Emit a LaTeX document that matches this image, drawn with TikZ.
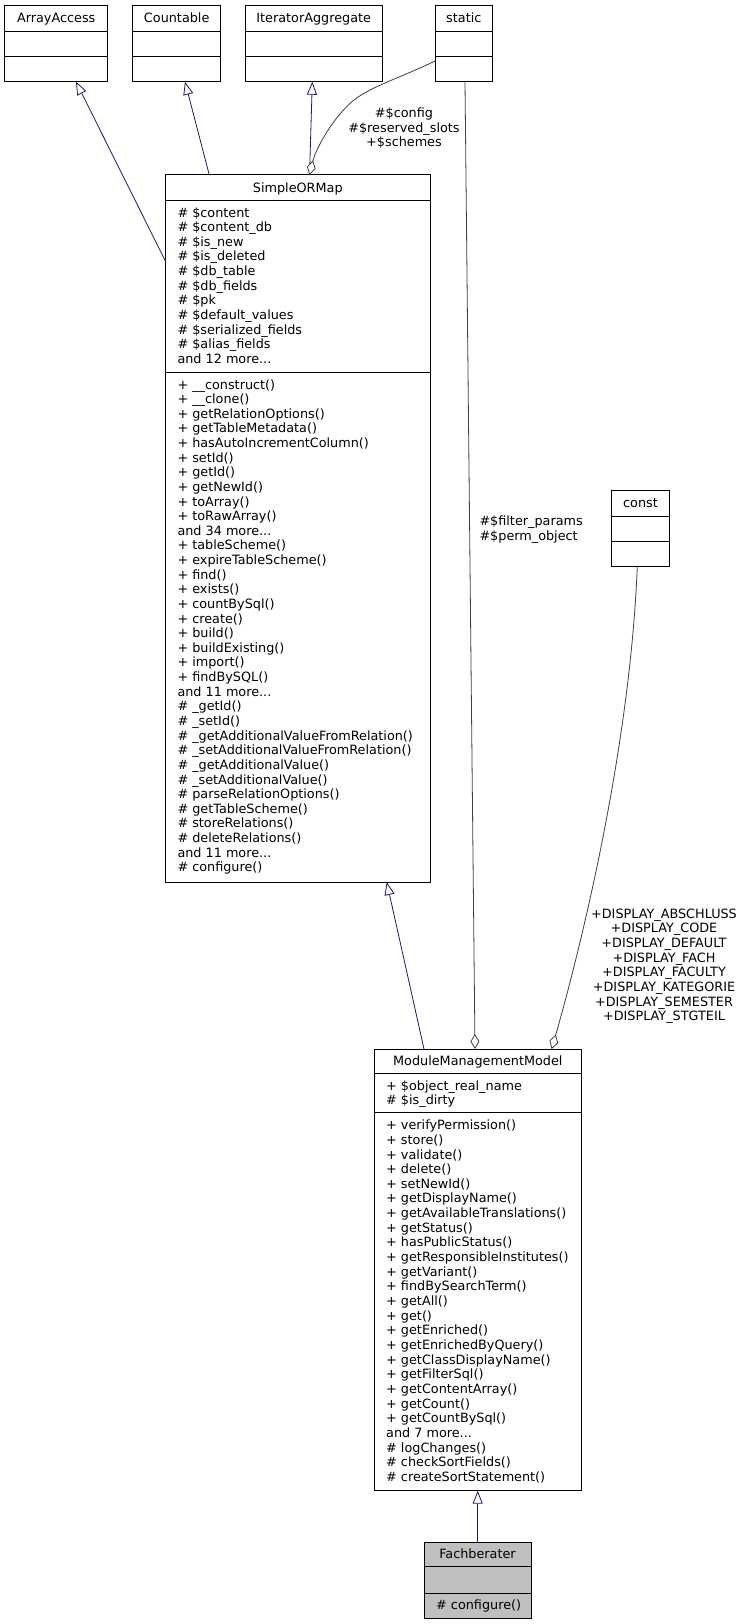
\documentclass[tikz,border=0pt]{standalone}
\usepackage{fontspec}
\setmainfont{DejaVu Sans}
\usetikzlibrary{arrows.meta}
\definecolor{navy}{HTML}{191970}
\definecolor{aggc}{HTML}{404040}
\definecolor{fachfill}{HTML}{BFBFBF}
\tikzset{
  clsbox/.style={draw=black, line width=1pt, inner sep=0pt, outer sep=0pt, anchor=north west},
  divline/.style={draw=black, line width=1pt},
  txt/.style={inner sep=0pt, anchor=west, text height=9.4pt, text depth=0pt, font=\fontsize{12.8}{14.6}\selectfont},
  ttl/.style={inner sep=0pt, anchor=center, text height=9.4pt, text depth=0pt, font=\fontsize{12.8}{14.6}\selectfont},
  inh/.style={draw=navy, line width=0.8pt, -{Triangle[open, length=13pt, width=10pt, fill=white]}},
  agg/.style={draw=aggc, line width=0.8pt, -{Diamond[open, length=15pt, width=9pt, fill=white]}},
}
\newcommand\umlcls[6]{\node[clsbox, fill=#6, minimum width={#4-#2}, minimum height={#5-#3}] (#1) at (#2,#3) {};}
\newcommand\mrdots{...}
\begin{document}
\begin{tikzpicture}[x=1pt,y=-1pt]
\useasboundingbox (0,0) rectangle (745,1624);
\fill[white] (0,0) rectangle (745,1624);

% top classes
\umlcls{aa}{4.7}{5.7}{107.7}{81.7}{white}
\draw[divline] (4.7,31.3) -- (107.7,31.3); \draw[divline] (4.7,56.7) -- (107.7,56.7);
\node[ttl] (aat) at (56.2,18) {ArrayAccess};

\umlcls{cnt}{132.7}{5.7}{220.7}{81.7}{white}
\draw[divline] (132.7,31.3) -- (220.7,31.3); \draw[divline] (132.7,56.7) -- (220.7,56.7);
\node[ttl] (cntt) at (176.7,18) {Countable};

\umlcls{ia}{245}{5.7}{382.3}{81.7}{white}
\draw[divline] (245,31.3) -- (382.3,31.3); \draw[divline] (245,56.7) -- (382.3,56.7);
\node[ttl] (iat) at (313.7,18) {IteratorAggregate};

\umlcls{st}{435}{5.7}{492.5}{81.7}{white}
\draw[divline] (435,31.3) -- (492.5,31.3); \draw[divline] (435,56.7) -- (492.5,56.7);
\node[ttl] (stt) at (463.8,18) {static};

% SimpleORMap
\umlcls{smap}{165.7}{175}{430}{882}{white}
\draw[divline] (165.7,200.7) -- (430,200.7); \draw[divline] (165.7,372.7) -- (430,372.7);
\node[ttl] (smapt) at (297.8,187.5) {SimpleORMap};
\foreach \t [count=\i from 0] in {\# \$content, \# \$content\_db, \# \$is\_new, \# \$is\_deleted, \# \$db\_table, \# \$db\_fields, \# \$pk, \# \$default\_values, \# \$serialized\_fields, \# \$alias\_fields, and 12 more\mrdots}
  \node[txt] (sa\i) at (177.3,212.3+14.63*\i) {\t};
\foreach \t [count=\i from 0] in {+ \_\_construct(), + \_\_clone(), + getRelationOptions(), + getTableMetadata(), + hasAutoIncrementColumn(), + setId(), + getId(), + getNewId(), + toArray(), + toRawArray(), and 34 more\mrdots, + tableScheme(), + expireTableScheme(), + find(), + exists(), + countBySql(), + create(), + build(), + buildExisting(), + import(), + findBySQL(), and 11 more\mrdots, \# \_getId(), \# \_setId(), \# \_getAdditionalValueFromRelation(), \# \_setAdditionalValueFromRelation(), \# \_getAdditionalValue(), \# \_setAdditionalValue(), \# parseRelationOptions(), \# getTableScheme(), \# storeRelations(), \# deleteRelations(), and 11 more\mrdots, \# configure()}
  \node[txt] (sm\i) at (177.3,384.3+14.63*\i) {\t};

% const
\umlcls{cst}{611.7}{490.7}{669.3}{566}{white}
\draw[divline] (611.7,516) -- (669.3,516); \draw[divline] (611.7,541) -- (669.3,541);
\node[ttl] (cstt) at (640.5,503) {const};

% ModuleManagementModel
\umlcls{mmm}{374}{1049}{581.7}{1490.7}{white}
\draw[divline] (374,1073) -- (581.7,1073); \draw[divline] (374,1112.7) -- (581.7,1112.7);
\node[ttl] (mmmt) at (477.8,1060.5) {ModuleManagementModel};
\node[txt] (ma0) at (386,1085.3) {+ \$object\_real\_name};
\node[txt] (ma1) at (386,1100.2) {\# \$is\_dirty};
\foreach \t [count=\i from 0] in {+ verifyPermission(), + store(), + validate(), + delete(), + setNewId(), + getDisplayName(), + getAvailableTranslations(), + getStatus(), + hasPublicStatus(), + getResponsibleInstitutes(), + getVariant(), + findBySearchTerm(), + getAll(), + get(), + getEnriched(), + getEnrichedByQuery(), + getClassDisplayName(), + getFilterSql(), + getContentArray(), + getCount(), + getCountBySql(), and 7 more\mrdots, \# logChanges(), \# checkSortFields(), \# createSortStatement()}
  \node[txt] (mm\i) at (386,1125+14.65*\i) {\t};

% Fachberater
\umlcls{fb}{424}{1542.3}{531}{1618}{fachfill}
\draw[divline] (424,1566.7) -- (531,1566.7); \draw[divline] (424,1593.3) -- (531,1593.3);
\node[ttl] (fbt) at (477.5,1554) {Fachberater};
\node[txt] (fbm) at (436,1605) {\# configure()};

% connector end points
\coordinate (aaT) at (76,81.7);
\coordinate (smapL) at (165.7,261.7);
\coordinate (cntT) at (185,81.7);
\coordinate (smapC) at (209.3,175);
\coordinate (iaT) at (312.3,81.7);
\coordinate (smapI) at (309.5,175);
\coordinate (smapB) at (386.7,882);
\coordinate (mmmL) at (424,1049);
\coordinate (mmmB) at (477.7,1490.7);
\coordinate (fbT) at (477.7,1542.3);
\coordinate (stL) at (435,61);
\coordinate (stB) at (465,81.7);
\coordinate (mmmS) at (475,1049);
\coordinate (cstB) at (637.3,566);
\coordinate (mmmC) at (551.7,1049);

% inheritance
\draw[inh] (smapL) -- (aaT);
\draw[inh] (smapC) -- (cntT);
\draw[inh] (smapI) -- (iaT);
\draw[inh] (mmmL) -- (smapB);
\draw[inh] (fbT) -- (mmmB);

% aggregation
\draw[agg] (stL) .. controls (400,78) and (372,86) .. (354,100) .. controls (334,116) and (316,148) .. (smapI);
\draw[agg] (stB) -- (mmmS);
\draw[agg] (cstB) .. controls (630,750) and (580,950) .. (mmmC);

% labels
\node[ttl] (l1) at (404,113) {\#\$config};
\node[ttl] (l2) at (404,127.7) {\#\$reserved\_slots};
\node[ttl] (l3) at (404,142.3) {+\$schemes};
\node[txt] (l4) at (479.3,520.7) {\#\$filter\_params};
\node[txt] (l5) at (479.3,535.3) {\#\$perm\_object};
\foreach \t [count=\i from 0] in {+DISPLAY\_ABSCHLUSS, +DISPLAY\_CODE, +DISPLAY\_DEFAULT, +DISPLAY\_FACH, +DISPLAY\_FACULTY, +DISPLAY\_KATEGORIE, +DISPLAY\_SEMESTER, +DISPLAY\_STGTEIL}
  \node[ttl] (d\i) at (664,913.5+14.65*\i) {\t};
\end{tikzpicture}
\end{document}
